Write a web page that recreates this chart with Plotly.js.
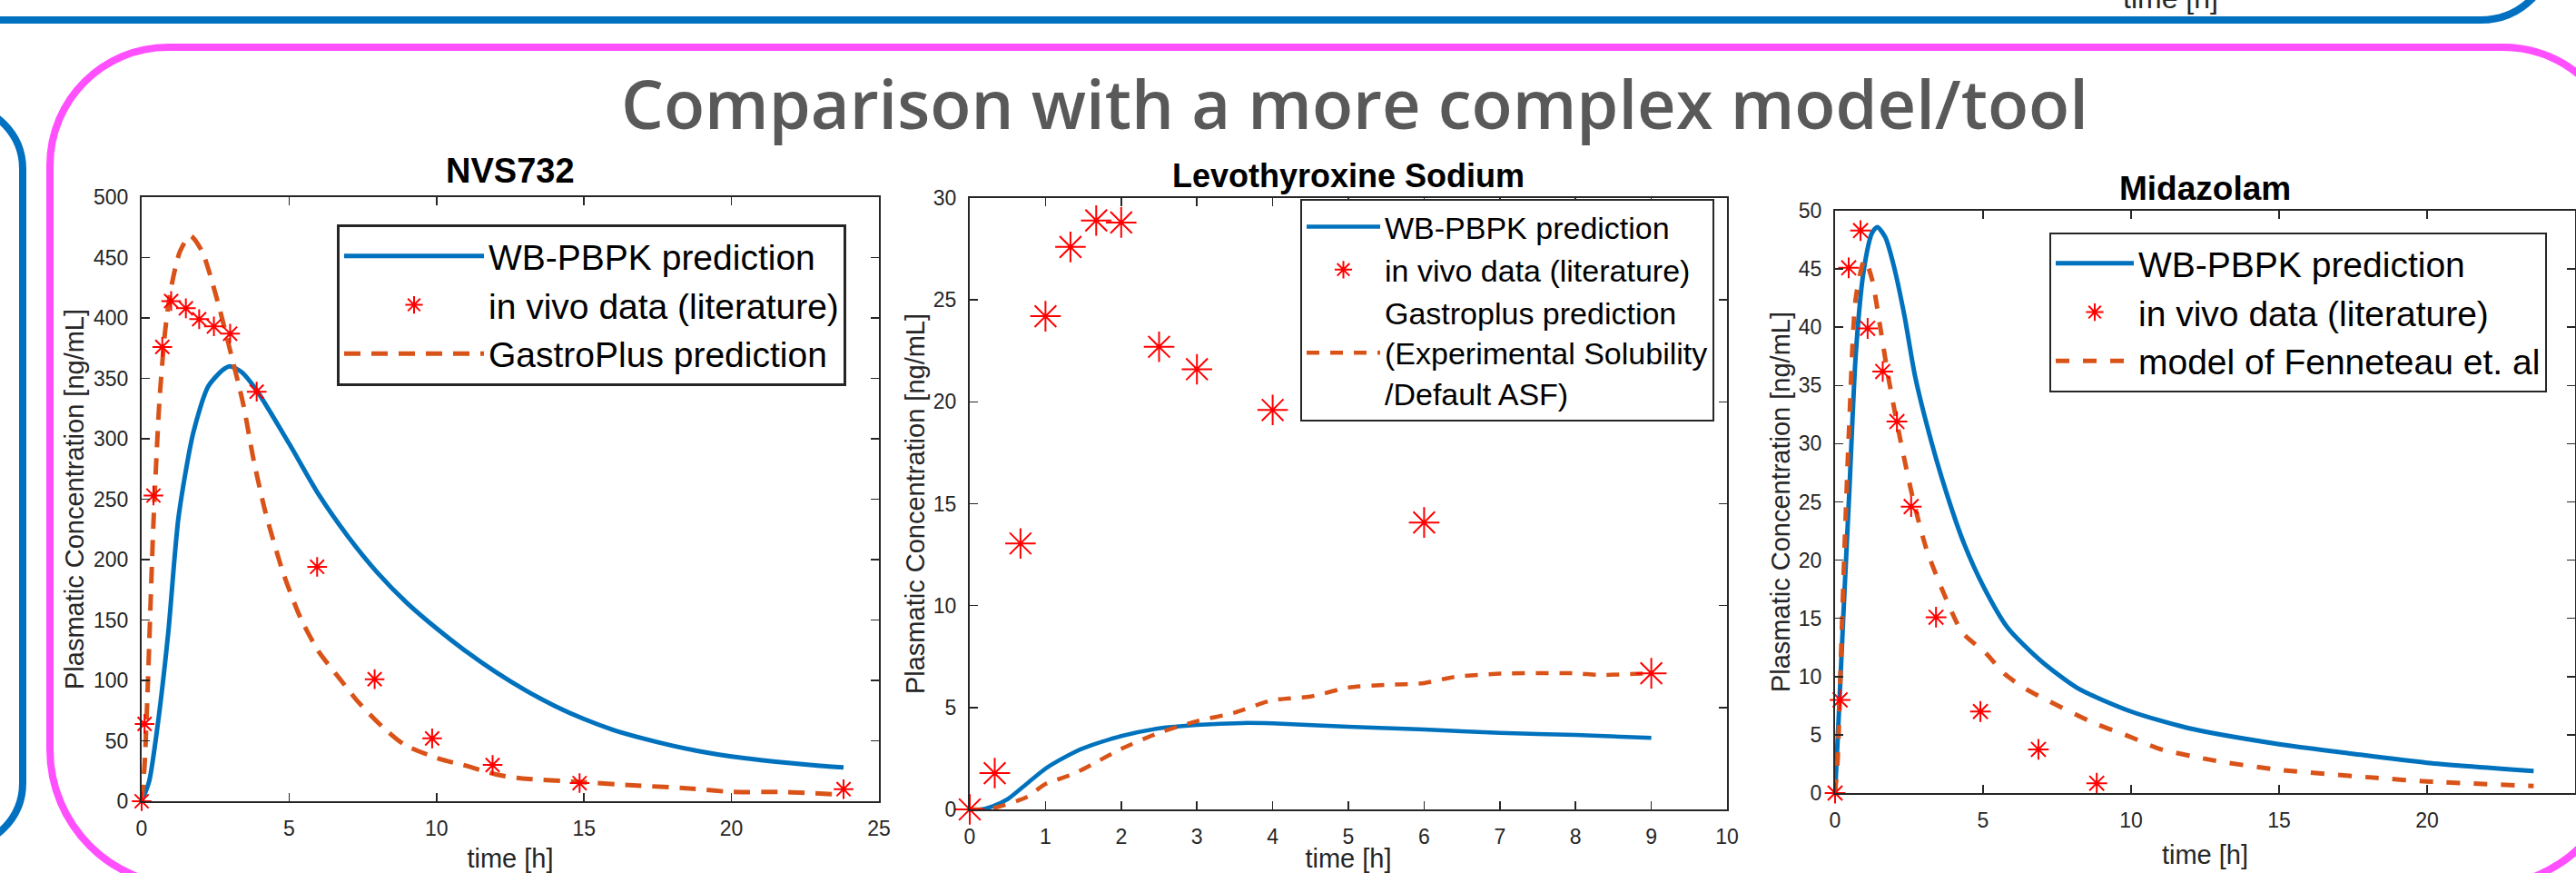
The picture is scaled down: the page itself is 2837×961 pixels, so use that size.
<!DOCTYPE html>
<html><head><meta charset="utf-8">
<script src="https://cdn.plot.ly/plotly-3.0.1.min.js"></script>
<style>html,body{margin:0;padding:0;background:#fff;overflow:hidden}#chart{width:2837px;height:961px}</style>
</head><body><div id="chart"></div>
<script>
// ---------------- data ----------------
// NVS732
const nvsObsT = [0, 0.1, 0.4, 0.7, 1.0, 1.5, 1.95, 2.45, 3.0, 3.9, 5.95, 7.9, 9.85, 11.9, 14.85, 23.8];
const nvsObsC = [0, 64, 253, 376, 414, 408, 399, 393, 387, 339, 194, 101, 52, 30, 15, 10];
const nvsPbpkT = [0, 0.25, 0.5, 0.9, 1.25, 1.75, 2.25, 2.75, 3.0, 3.4, 3.9, 5, 6, 7, 8, 9, 10, 11, 12, 13, 14, 15, 16, 17, 18, 19, 20, 21, 22, 23, 23.8];
const nvsPbpkC = [0, 16, 55, 139, 235, 305, 343, 357, 360, 355, 340, 296, 254, 219, 189, 164, 143, 124, 107, 92, 79, 68, 59, 52, 46, 41, 37, 34, 31.5, 29.3, 28];
const nvsGpT = [0, 0.1, 0.2, 0.4, 0.6, 0.8, 1.0, 1.3, 1.65, 2.05, 2.55, 2.95, 3.45, 3.8, 4.2, 4.8, 5.4, 6.0, 6.6, 7.35, 8.15, 8.9, 10.1, 10.9, 12.05, 12.85, 14.8, 16.8, 18.7, 20, 21.7, 23.8];
const nvsGpC = [0, 30, 90, 230, 330, 390, 425, 455, 468, 455, 416, 378, 328, 282, 239, 189, 151, 124, 105, 82, 62, 47, 35, 30, 22, 19, 16, 13, 10.4, 7.7, 7.7, 5.4];
// Levothyroxine Sodium
const levoObsT = [0, 0.33, 0.67, 1, 1.33, 1.67, 2, 2.5, 3, 4, 6, 9];
const levoObsC = [0, 1.78, 13.05, 24.2, 27.6, 28.9, 28.8, 22.7, 21.6, 19.6, 14.08, 6.68];
const levoPbpkT = [0, 0.15, 0.3, 0.5, 0.75, 1.0, 1.25, 1.5, 2.0, 2.5, 3.0, 3.6, 4.0, 5.0, 6.0, 7.0, 8.0, 9.0];
const levoPbpkC = [0, 0, 0.15, 0.5, 1.25, 2.0, 2.55, 3.0, 3.6, 3.98, 4.15, 4.24, 4.22, 4.06, 3.92, 3.76, 3.65, 3.51];
const levoGpT = [0, 0.15, 0.35, 0.75, 1.0, 1.35, 1.65, 2.0, 2.5, 3.0, 3.5, 4.0, 4.5, 5.0, 5.5, 6.0, 6.4, 7.0, 8.0, 8.3, 9.0];
const levoGpC = [0, 0, 0.1, 0.6, 1.25, 1.71, 2.28, 2.97, 3.76, 4.33, 4.75, 5.36, 5.54, 5.98, 6.11, 6.2, 6.5, 6.66, 6.68, 6.6, 6.68];
// Midazolam
const midObsT = [0, 0.17, 0.46, 0.86, 1.1, 1.61, 2.09, 2.57, 3.41, 4.91, 6.87, 8.84];
const midObsC = [0, 8.0, 45.1, 48.3, 39.9, 36.2, 31.9, 24.6, 15.1, 7.0, 3.75, 0.84];
const midPbpkT = [0, 0.11, 0.29, 0.48, 0.7, 0.97, 1.25, 1.43, 1.7, 1.98, 2.35, 2.71, 3.26, 3.81, 4.36, 5.0, 5.83, 6.93, 8.2, 10, 11.9, 15, 17.4, 20, 23.6];
const midPbpkC = [0, 5.8, 15.8, 25.8, 37.7, 44.9, 48.1, 48.6, 47.7, 45.3, 40.9, 35.7, 30.1, 25.4, 21.4, 17.8, 14.2, 11.4, 9.0, 7.0, 5.6, 4.2, 3.4, 2.6, 1.9];
const midFenT = [0, 0.09, 0.2, 0.33, 0.48, 0.7, 1.0, 1.25, 1.52, 1.8, 2.16, 2.62, 3.08, 3.63, 4.3, 5.1, 5.74, 6.47, 7.3, 8.76, 10, 10.96, 12.8, 15, 18.3, 20, 23.6];
const midFenC = [0, 3, 11.8, 21.8, 31.7, 42.5, 45.8, 44.1, 40.1, 35.7, 30.9, 25.4, 21.0, 17.4, 13.8, 12.0, 10.2, 8.9, 7.8, 6.0, 4.8, 3.8, 2.8, 2.0, 1.3, 1.0, 0.6];

// texts
const mainTitle = 'Comparison with a more complex model/tool';
const subTitles = ['NVS732', 'Levothyroxine Sodium', 'Midazolam'];
const xTitle = 'time [h]';
const yTitle = 'Plasmatic Concentration [ng/mL]';
const nameWb = 'WB-PBPK prediction';
const nameObs = 'in vivo data (literature)';
const nameGp1 = 'GastroPlus prediction';
const nameGp2 = 'Gastroplus prediction<br>(Experimental Solubility<br>/Default ASF)';
const nameFen = 'model of Fenneteau et. al';

// ---------------- styling ----------------
const W = 2837, H = 961;
const px = x => x / W, py = y => 1 - y / H;
const BLUE = '#0072BD', ORANGE = '#D95319', RED = '#FF0000', AX = '#262626';
const FONT = 'Liberation Sans, Arial, sans-serif';

function lineTrace(x, y, name, color, dash, xa, ya, leg, rank, w) {
  return {x, y, name, mode: 'lines', xaxis: xa, yaxis: ya, legend: leg, legendrank: rank,
    cliponaxis: false, hoverinfo: 'skip',
    line: {color, width: w, dash: dash, shape: 'spline', smoothing: 0.7}};
}
function obsTrace(x, y, xa, ya, leg, size) {
  return {x, y, name: nameObs, mode: 'markers', xaxis: xa, yaxis: ya, legend: leg, legendrank: 2,
    cliponaxis: false, hoverinfo: 'skip',
    marker: {symbol: 'asterisk-open', size, color: RED, line: {color: RED, width: 2}}};
}

const data = [
  lineTrace(nvsPbpkT, nvsPbpkC, nameWb, BLUE, 'solid', 'x', 'y', 'legend', 1, 5),
  lineTrace(nvsGpT, nvsGpC, nameGp1, ORANGE, '18px,12px', 'x', 'y', 'legend', 3, 5),
  obsTrace(nvsObsT, nvsObsC, 'x', 'y', 'legend', 18),
  lineTrace(levoPbpkT, levoPbpkC, nameWb, BLUE, 'solid', 'x2', 'y2', 'legend2', 1, 4.5),
  lineTrace(levoGpT, levoGpC, nameGp2, ORANGE, '14px,12px', 'x2', 'y2', 'legend2', 3, 4.5),
  obsTrace(levoObsT, levoObsC, 'x2', 'y2', 'legend2', 28),
  lineTrace(midPbpkT, midPbpkC, nameWb, BLUE, 'solid', 'x3', 'y3', 'legend3', 1, 5),
  lineTrace(midFenT, midFenC, nameFen, ORANGE, '15px,15px', 'x3', 'y3', 'legend3', 3, 5),
  obsTrace(midObsT, midObsC, 'x3', 'y3', 'legend3', 19)
];

function axis(domain, range, dtick, anchor, title, standoff) {
  return {domain, range, dtick, tick0: 0, anchor, autorange: false,
    showgrid: false, zeroline: false, showline: true, linecolor: AX, linewidth: 2,
    mirror: 'ticks', ticks: 'inside', ticklen: 9, tickwidth: 1.5, tickcolor: AX,
    tickfont: {family: FONT, size: 23, color: AX}, ticklabelstandoff: 8,
    title: {text: title, font: {family: FONT, size: 29, color: AX}, standoff: standoff},
    fixedrange: true};
}

// plot boxes in px (left, right, top, bottom)
const boxes = [[156, 968, 217, 882], [1068, 1902, 218, 891], [2021, 2836, 232, 873]];
const dx = b => [px(b[0]), px(b[1])], dy = b => [py(b[3]), py(b[2])];

function legend(x, y, size, bw, iw) {
  return {x: px(x), y: py(y), xanchor: 'left', yanchor: 'top', xref: 'paper', yref: 'paper',
    bgcolor: '#FFFFFF', bordercolor: AX, borderwidth: bw, itemwidth: iw,
    font: {family: FONT, size, color: '#000000'}, traceorder: 'normal', valign: 'middle'};
}

function roundRect(x0, y0, x1, y1, rtl, rtr, rbr, rbl) {
  const k = 0.5523;
  const P = (x, y) => px(x).toFixed(5) + ',' + py(y).toFixed(5);
  return 'M' + P(x0 + rtl, y0) + ' L' + P(x1 - rtr, y0) +
    ' C' + P(x1 - rtr + k * rtr, y0) + ' ' + P(x1, y0 + rtr - k * rtr) + ' ' + P(x1, y0 + rtr) +
    ' L' + P(x1, y1 - rbr) +
    ' C' + P(x1, y1 - rbr + k * rbr) + ' ' + P(x1 - rbr + k * rbr, y1) + ' ' + P(x1 - rbr, y1) +
    ' L' + P(x0 + rbl, y1) +
    ' C' + P(x0 + rbl - k * rbl, y1) + ' ' + P(x0, y1 - rbl + k * rbl) + ' ' + P(x0, y1 - rbl) +
    ' L' + P(x0, y0 + rtl) +
    ' C' + P(x0, y0 + rtl - k * rtl) + ' ' + P(x0 + rtl - k * rtl, y0) + ' ' + P(x0 + rtl, y0) + ' Z';
}

const xa1 = axis(dx(boxes[0]), [0, 25], 5, 'y', xTitle, 16);
const ya1 = axis(dy(boxes[0]), [0, 500], 50, 'x', yTitle, 2);
const xa2 = axis(dx(boxes[1]), [0, 10], 1, 'y2', xTitle, 16);
const ya2 = axis(dy(boxes[1]), [0, 30], 5, 'x2', yTitle, 1);
const xa3 = axis(dx(boxes[2]), [0, 25], 5, 'y3', xTitle, 16);
const ya3 = axis(dy(boxes[2]), [0, 50], 5, 'x3', yTitle, 1);

const layout = {
  width: W, height: H, margin: {l: 0, r: 0, t: 0, b: 0},
  paper_bgcolor: '#FFFFFF', plot_bgcolor: '#FFFFFF', showlegend: true,
  font: {family: FONT, color: AX},
  xaxis: xa1, yaxis: ya1, xaxis2: xa2, yaxis2: ya2, xaxis3: xa3, yaxis3: ya3,
  legend: legend(371, 247, 39, 3, 154),
  legend2: legend(1432, 219, 34, 2, 81),
  legend3: legend(2257, 256, 39, 2, 86),
  annotations: [
    {text: mainTitle, x: px(1492), y: py(114), xref: 'paper', yref: 'paper', xanchor: 'center', yanchor: 'middle',
      showarrow: false, font: {family: 'Open Sans, sans-serif', size: 74, color: '#595959', weight: 600}},
    {text: '<b>' + subTitles[0] + '</b>', x: px(562), y: py(188), xref: 'paper', yref: 'paper', xanchor: 'center', yanchor: 'middle',
      showarrow: false, font: {family: FONT, size: 38, color: '#000000'}},
    {text: '<b>' + subTitles[1] + '</b>', x: px(1485), y: py(194), xref: 'paper', yref: 'paper', xanchor: 'center', yanchor: 'middle',
      showarrow: false, font: {family: FONT, size: 36, color: '#000000'}},
    {text: '<b>' + subTitles[2] + '</b>', x: px(2428), y: py(207), xref: 'paper', yref: 'paper', xanchor: 'center', yanchor: 'middle',
      showarrow: false, font: {family: FONT, size: 37, color: '#000000'}},
    {text: xTitle, x: px(2390), y: py(18), xref: 'paper', yref: 'paper', xanchor: 'center', yanchor: 'bottom',
      showarrow: false, font: {family: FONT, size: 32, color: AX}}
  ],
  shapes: [
    {type: 'path', xref: 'paper', yref: 'paper', path: roundRect(55, 52, 2887, 975, 130, 130, 150, 150),
      line: {color: '#FF4FFF', width: 8}, fillcolor: 'rgba(0,0,0,0)', layer: 'below'},
    {type: 'path', xref: 'paper', yref: 'paper', path: roundRect(-200, -300, 2812, 22, 80, 80, 80, 80),
      line: {color: '#0070C0', width: 8}, fillcolor: 'rgba(0,0,0,0)', layer: 'below'},
    {type: 'path', xref: 'paper', yref: 'paper', path: roundRect(-300, 116, 25, 932, 70, 70, 70, 70),
      line: {color: '#0070C0', width: 8}, fillcolor: 'rgba(0,0,0,0)', layer: 'below'}
  ]
};

Plotly.newPlot('chart', data, layout, {staticPlot: true, displayModeBar: false});
</script>
</body></html>
